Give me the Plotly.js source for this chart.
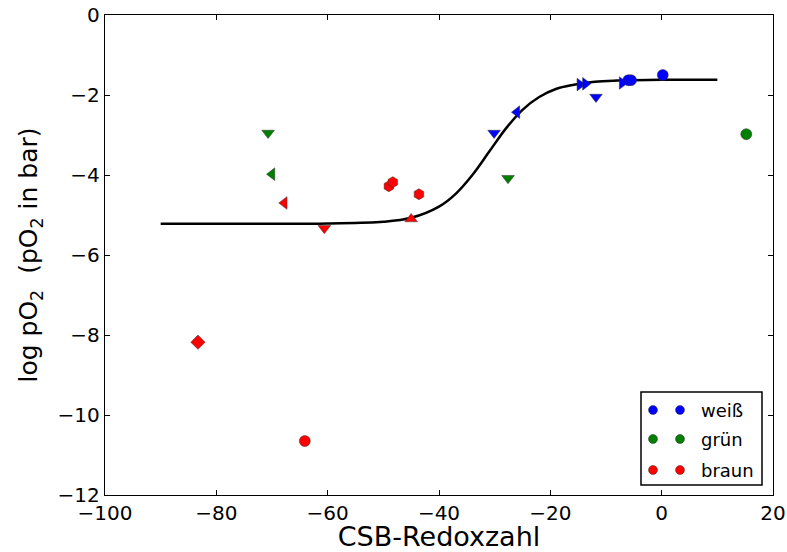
<!DOCTYPE html>
<html>
<head>
<meta charset="utf-8">
<script src="https://cdn.plot.ly/plotly-3.0.1.min.js"></script>
<style>html,body{margin:0;padding:0;background:#fff;}#chart{width:787px;height:552px;}</style>
</head>
<body>
<div id="chart"></div>
<script>
// ---- data ----
const seriesNames = ["weiß", "grün", "braun"];

const weissX = [0.2, -5.5, -6.0, -14.7, -13.7, -11.8, -7.1, -26.0, -30.1];
const weissY = [-1.50, -1.63, -1.63, -1.74, -1.72, -2.05, -1.70, -2.43, -2.95];

const gruenX = [15.2, -70.7, -70.0, -27.6];
const gruenY = [-2.98, -2.95, -3.98, -4.08];

const braunX = [-67.8, -60.6, -45.0, -49.0, -48.3, -43.6, -83.3, -64.1];
const braunY = [-4.70, -5.33, -5.10, -4.28, -4.18, -4.48, -8.18, -10.65];

const fitX = [-90, -70, -60, -50, -45, -40, -37, -34, -31, -28, -25, -22, -19, -16, -12, -8, -5, 0, 10];
const fitY = [-5.22, -5.22, -5.21, -5.17, -5.07, -4.79, -4.47, -4.00, -3.42, -2.84, -2.37, -2.05, -1.85, -1.75, -1.67, -1.64, -1.63, -1.62, -1.62];

const xTicks = [-100, -80, -60, -40, -20, 0, 20];
const yTicks = [0, -2, -4, -6, -8, -10, -12];

// ---- styling ----
const colors = ["#0000ff", "#007f00", "#ff0000"];
const symbols = [
  ["circle", "circle", "circle", "triangle-right", "triangle-right", "triangle-down", "triangle-right", "triangle-left", "triangle-down"],
  ["circle", "triangle-down", "triangle-left", "triangle-down"],
  ["triangle-left", "triangle-down", "triangle-up", "hexagon", "hexagon", "hexagon", "diamond", "circle"]
];
const xs = [weissX, gruenX, braunX];
const ys = [weissY, gruenY, braunY];
const fnt = "DejaVu Sans, sans-serif";

const traces = [{
  x: fitX, y: fitY, mode: "lines", type: "scatter",
  line: {color: "#000", width: 2.5, shape: "spline", smoothing: 1},
  showlegend: false, hoverinfo: "skip"
}];
for (let i = 0; i < 3; i++) {
  traces.push({
    x: xs[i], y: ys[i], mode: "markers", type: "scatter", name: seriesNames[i],
    marker: {color: colors[i], symbol: symbols[i], size: 11, line: {color: "#333", width: 0.5}},
    showlegend: false
  });
}

// manual legend (two dots per entry, like matplotlib)
const L = 105, R = 773, T = 15, B = 495;
const px = v => (v - L) / (R - L);
const py = v => (B - v) / (B - T);
const shapes = [{
  type: "rect", xref: "paper", yref: "paper",
  x0: px(641), x1: px(762), y0: py(485), y1: py(392),
  line: {color: "#000", width: 1.5}, fillcolor: "#fff", layer: "above"
}];
const annotations = [];
const rowY = [410, 439, 470];
for (let i = 0; i < 3; i++) {
  [653, 680].forEach(cx => shapes.push({
    type: "circle", xref: "paper", yref: "paper",
    xsizemode: "pixel", ysizemode: "pixel",
    xanchor: px(cx), yanchor: py(rowY[i]),
    x0: -4.5, x1: 4.5, y0: -4.5, y1: 4.5,
    fillcolor: colors[i], line: {color: "#333", width: 0.5}, layer: "above"
  }));
  annotations.push({
    xref: "paper", yref: "paper", x: px(699), y: py(rowY[i]),
    xanchor: "left", yanchor: "middle", showarrow: false,
    text: seriesNames[i], font: {family: fnt, size: 18, color: "#000"}
  });
}

const axisCommon = {
  showline: true, linecolor: "#000", linewidth: 1.2, mirror: "ticks",
  ticks: "inside", ticklen: 5, tickwidth: 1, tickcolor: "#000",
  showgrid: false, zeroline: false,
  tickfont: {family: fnt, size: 20, color: "#000"}
};

const layout = {
  width: 787, height: 552,
  margin: {l: 105, r: 14, t: 15, b: 57},
  paper_bgcolor: "#fff", plot_bgcolor: "#fff",
  showlegend: false,
  xaxis: Object.assign({}, axisCommon, {
    range: [-100, 20], tickvals: xTicks, ticktext: xTicks.map(v => v < 0 ? "\u2212" + (-v) : String(v)),
    title: {text: "CSB-Redoxzahl", font: {family: fnt, size: 27, color: "#000"}, standoff: 3}
  }),
  yaxis: Object.assign({}, axisCommon, {
    range: [-12, 0], tickvals: yTicks, ticktext: yTicks.map(v => v < 0 ? "\u2212" + (-v) : String(v)),
    title: {text: "log pO<sub>2</sub>  (pO<sub>2</sub> in bar)", font: {family: fnt, size: 25, color: "#000"}, standoff: 12}
  }),
  shapes: shapes, annotations: annotations
};

Plotly.newPlot("chart", traces, layout, {displayModeBar: false, staticPlot: true});
</script>
</body>
</html>
